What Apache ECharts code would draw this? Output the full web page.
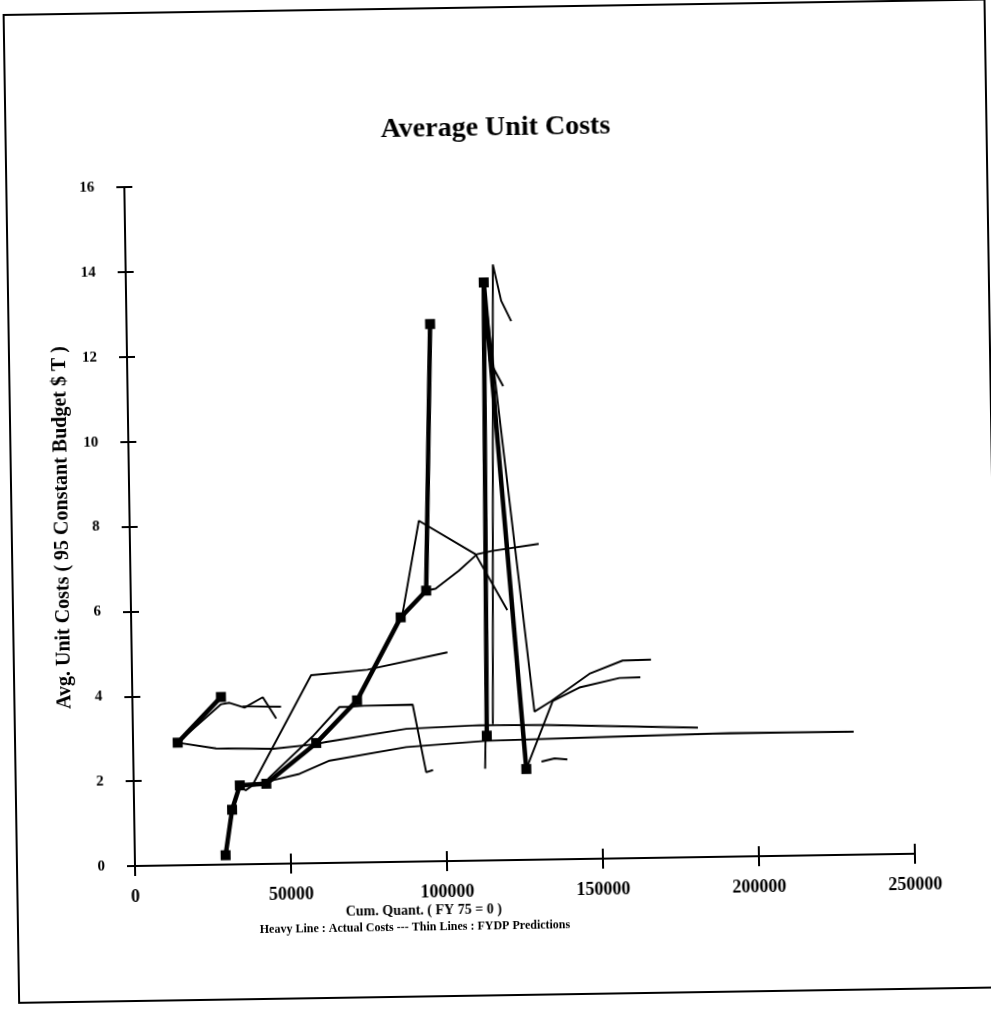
<!DOCTYPE html>
<html>
<head>
<meta charset="utf-8">
<script src="https://cdn.jsdelivr.net/npm/echarts/dist/echarts.min.js"></script>
<style>
html,body{margin:0;padding:0;background:#fff;overflow:hidden;width:991px;height:1012px;}
#chart{position:absolute;left:0;top:0;width:1030px;height:1040px;transform:rotate(-0.9deg);transform-origin:135px 866px;}
</style>
</head>
<body>
<div id="chart"></div>
<script>
// ---- Axis ticks ----
const xTicks = [0, 50000, 100000, 150000, 200000, 250000];
const yTicks = [0, 2, 4, 6, 8, 10, 12, 14, 16];

// ---- Heavy line: actual costs [cum. quantity, avg unit cost] ----
const actualA = [[14300, 2.89], [28400, 3.95]];
const actualB = [[29100, 0.22], [31400, 1.29], [34000, 1.86], [42500, 1.89], [58700, 2.83],
                 [72000, 3.82], [86400, 5.76], [94700, 6.38], [97300, 12.66]];
const actualC = [[113400, 2.94], [114700, 13.62], [125900, 2.14]];

// ---- Thin lines: FYDP predictions ----
const predA = [[14300, 2.89], [26600, 2.74], [44800, 2.71], [58200, 2.80], [61900, 2.85],
               [87600, 3.13], [111100, 3.19], [132500, 3.17], [181100, 3.05]];
const predB = [[14300, 2.89], [28400, 3.78], [31100, 3.81], [35900, 3.69], [41800, 3.93], [46000, 3.42]];
const predC = [[35300, 3.72], [47600, 3.70]];
const predD = [[34000, 1.86], [35800, 1.74], [38000, 1.85], [42500, 1.89]];
const predE = [[38200, 1.88], [57400, 4.43], [75500, 4.54], [101200, 4.92]];
const predF = [[43000, 2.00], [57500, 2.98], [66300, 3.67], [69000, 3.67], [74300, 3.69],
               [89800, 3.70], [93800, 2.10], [96000, 2.15]];
const predG = [[42500, 1.89], [44700, 1.97], [53200, 2.11], [62900, 2.41], [87500, 2.70],
               [113200, 2.82], [153800, 2.87], [191200, 2.91], [231000, 2.90]];
const predH = [[86400, 5.76], [87000, 5.84], [92700, 8.03], [110700, 7.22], [120600, 5.89]];
const predI = [[94700, 6.38], [97700, 6.42], [105300, 6.84], [111200, 7.22], [116000, 7.29], [131000, 7.44]];
const predJ = [[115400, 3.21], [117700, 14.04], [120200, 13.18], [123300, 12.70]];
const predK = [[115500, 12.6], [116200, 11.77], [120400, 11.17]];
const predL = [[115500, 13.0], [128800, 3.49], [134200, 3.73], [146600, 4.36], [157300, 4.66], [166400, 4.67]];
const predM = [[125900, 2.14], [134700, 3.73], [143300, 4.04], [156200, 4.25], [162900, 4.26]];
const predN = [[130800, 2.31], [135000, 2.38], [139100, 2.35]];
const predO = [[112700, 2.16], [113000, 2.94]];

const actuals = [actualA, actualB, actualC];
const preds = [predA, predB, predC, predD, predE, predF, predG, predH, predI, predJ, predK, predL, predM, predN, predO];

const FONT = '"Liberation Serif", "Times New Roman", serif';

const chart = echarts.init(document.getElementById('chart'), null, {renderer: 'canvas'});

const xBase = {
  type: 'value', min: xTicks[0], max: xTicks[xTicks.length - 1], interval: xTicks[1] - xTicks[0],
  position: 'bottom', splitLine: {show: false}
};
const yBase = {
  type: 'value', min: yTicks[0], max: yTicks[yTicks.length - 1], interval: yTicks[1] - yTicks[0],
  position: 'left', splitLine: {show: false}
};

const series = [];
preds.forEach((d, i) => series.push({
  name: 'FYDP Prediction ' + (i + 1), type: 'line', data: d, symbol: 'none', z: 2,
  lineStyle: {color: '#000', width: 1.9}, animation: false, silent: true
}));
actuals.forEach((d, i) => series.push({
  name: 'Actual Costs ' + (i + 1), type: 'line', data: d, symbol: 'rect', symbolSize: 10, z: 3,
  showSymbol: true, itemStyle: {color: '#000'},
  lineStyle: {color: '#000', width: 4.5}, animation: false, silent: true
}));

chart.setOption({
  backgroundColor: '#fff',
  animation: false,
  title: {
    text: 'Average Unit Costs', left: 507, top: 120, textAlign: 'center', padding: 0,
    textStyle: {fontFamily: FONT, fontWeight: 'bold', fontSize: 28, color: '#000'}
  },
  grid: {left: 135, top: 187, width: 780, height: 679, containLabel: false},
  xAxis: [
    Object.assign({}, xBase, {
      axisLine: {show: true, onZero: false, lineStyle: {color: '#000', width: 2}},
      axisTick: {show: true, length: 10, lineStyle: {color: '#000', width: 2}},
      axisLabel: {color: '#000', fontFamily: FONT, fontWeight: 'bold', fontSize: 18, margin: 22,
                  formatter: v => String(v)}
    }),
    Object.assign({}, xBase, {
      axisLine: {show: false, onZero: false},
      axisTick: {show: true, inside: true, length: 10, lineStyle: {color: '#000', width: 2}},
      axisLabel: {show: false}
    })
  ],
  yAxis: [
    Object.assign({}, yBase, {
      name: 'Avg. Unit Costs ( 95 Constant Budget $ T )',
      nameLocation: 'middle', nameRotate: 90, nameGap: 57,
      nameTextStyle: {color: '#000', fontFamily: FONT, fontWeight: 'bold', fontSize: 20},
      axisLine: {show: true, onZero: false, lineStyle: {color: '#000', width: 2}},
      axisTick: {show: true, length: 8, lineStyle: {color: '#000', width: 2}},
      axisLabel: {color: '#000', fontFamily: FONT, fontWeight: 'bold', fontSize: 15, margin: 30,
                  formatter: v => String(v)}
    }),
    Object.assign({}, yBase, {
      axisLine: {show: false, onZero: false},
      axisTick: {show: true, inside: true, length: 8, lineStyle: {color: '#000', width: 2}},
      axisLabel: {show: false}
    })
  ],
  graphic: [
    {type: 'rect', silent: true, shape: {x: 17, y: 13, width: 981, height: 988},
     style: {fill: 'transparent', stroke: '#000', lineWidth: 2}},
    {type: 'text', silent: true, x: 423, y: 915,
     style: {text: 'Cum. Quant. ( FY 75 = 0 )', align: 'center', verticalAlign: 'middle',
             font: 'bold 14px "Liberation Serif", serif', fill: '#000'}},
    {type: 'text', silent: true, x: 414, y: 932,
     style: {text: 'Heavy Line : Actual Costs --- Thin Lines : FYDP Predictions', align: 'center', verticalAlign: 'middle',
             font: 'bold 12px "Liberation Serif", serif', fill: '#000'}}
  ],
  series: series
});
</script>
</body>
</html>
